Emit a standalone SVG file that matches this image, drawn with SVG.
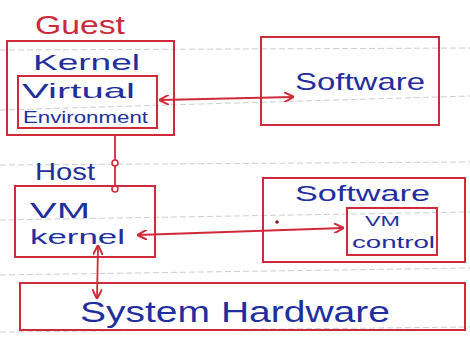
<svg xmlns="http://www.w3.org/2000/svg" width="470" height="349" viewBox="0 0 470 349">
<style>
.box{fill:none;stroke:#d02a3a;stroke-width:2}
.ln{fill:none;stroke:#d02a3a;stroke-width:1.8}
.rule{stroke:#9aa0a8;stroke-width:1;stroke-dasharray:6 3;opacity:0.5}
.t{font-family:"Liberation Sans",Arial,sans-serif;fill:#1f2f9e}
.r{font-family:"Liberation Sans",Arial,sans-serif;fill:#cc2a3a}
</style>
<defs>
<marker id="ah" viewBox="0 0 10 10" refX="9" refY="5" markerWidth="10" markerHeight="10" orient="auto-start-reverse" markerUnits="userSpaceOnUse">
<path d="M0,0 L10,5 L0,10" fill="none" stroke="#d02a3a" stroke-width="2"/>
</marker>
</defs>
<rect width="470" height="349" fill="#ffffff"/>
<g id="paper-rules">
<line class="rule" x1="0" y1="50" x2="470" y2="48"/>
<line class="rule" x1="0" y1="110" x2="470" y2="96"/>
<line class="rule" x1="0" y1="165" x2="470" y2="162"/>
<line class="rule" x1="0" y1="220" x2="470" y2="212"/>
<line class="rule" x1="0" y1="275" x2="470" y2="268"/>
<line class="rule" x1="0" y1="332" x2="470" y2="327"/>
</g>
<g id="connectors">
<line class="ln" x1="160" y1="100" x2="293" y2="97" marker-start="url(#ah)" marker-end="url(#ah)"/>
<line class="ln" x1="115" y1="136" x2="115" y2="186"/>
<circle cx="115" cy="163" r="3" fill="#fff" stroke="#d02a3a" stroke-width="1.6"/>
<circle cx="115" cy="189" r="3" fill="#fff" stroke="#d02a3a" stroke-width="1.6"/>
<line class="ln" x1="138" y1="235" x2="343" y2="228" marker-start="url(#ah)" marker-end="url(#ah)"/>
<line class="ln" x1="98" y1="246" x2="97" y2="298" marker-start="url(#ah)" marker-end="url(#ah)"/>
</g>
<g id="guest-label"><text class="r" x="35" y="34" font-size="26" textLength="90" lengthAdjust="spacingAndGlyphs">Guest</text></g>
<g id="guest">
<rect class="box" x="7" y="41" width="167" height="94"/>
<text class="t" x="33" y="70" font-size="22" textLength="107" lengthAdjust="spacingAndGlyphs">Kernel</text>
</g>
<g id="virtual-environment">
<rect class="box" x="18" y="76" width="139" height="52"/>
<text class="t" x="22" y="98" font-size="21" textLength="113" lengthAdjust="spacingAndGlyphs">Virtual</text>
<text class="t" x="23" y="123" font-size="16" textLength="125" lengthAdjust="spacingAndGlyphs">Environment</text>
</g>
<g id="software-1">
<rect class="box" x="261" y="37" width="178" height="88"/>
<text class="t" x="295" y="90" font-size="24" textLength="130" lengthAdjust="spacingAndGlyphs">Software</text>
</g>
<g id="host-label"><text class="t" x="35" y="180" font-size="24" textLength="60" lengthAdjust="spacingAndGlyphs">Host</text></g>
<g id="host">
<rect class="box" x="15" y="186" width="140" height="71"/>
<text class="t" x="30" y="218" font-size="22" textLength="60" lengthAdjust="spacingAndGlyphs">VM</text>
<text class="t" x="30" y="244" font-size="20" textLength="95" lengthAdjust="spacingAndGlyphs">kernel</text>
</g>
<g id="software-2">
<rect class="box" x="263" y="178" width="202" height="84"/>
<text class="t" x="295" y="201" font-size="22" textLength="135" lengthAdjust="spacingAndGlyphs">Software</text>
<circle cx="277" cy="222" r="1.8" fill="#7a2020"/>
</g>
<g id="vm-control">
<rect class="box" x="347" y="208" width="90" height="47"/>
<text class="t" x="365" y="226" font-size="14" textLength="35" lengthAdjust="spacingAndGlyphs">VM</text>
<text class="t" x="352" y="248" font-size="16" textLength="83" lengthAdjust="spacingAndGlyphs">control</text>
</g>
<g id="system-hardware">
<rect class="box" x="20" y="283" width="445" height="47"/>
<text class="t" x="80" y="322" font-size="29" textLength="310" lengthAdjust="spacingAndGlyphs">System Hardware</text>
</g>
</svg>
